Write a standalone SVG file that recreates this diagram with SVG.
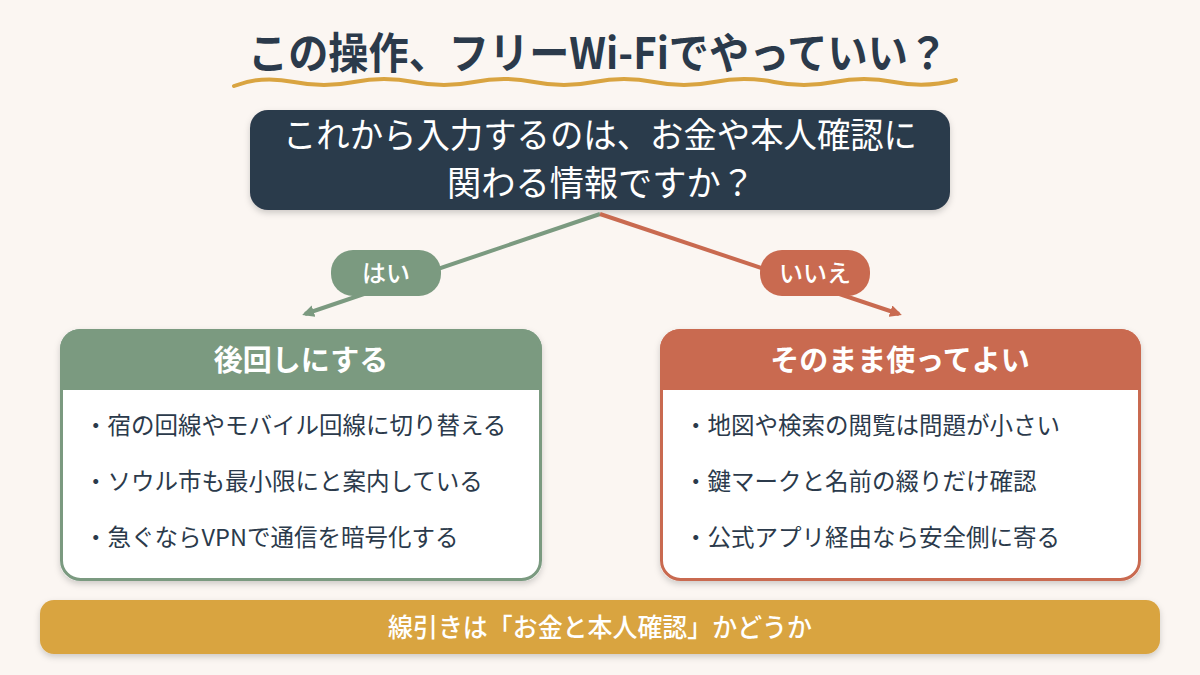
<svg xmlns="http://www.w3.org/2000/svg" width="1200" height="675" viewBox="0 0 1200 675">
<defs>
<style>
.t{font-family:"Noto Sans CJK JP","Noto Sans",sans-serif;}
.title{font-size:43px;font-weight:700;fill:#2b3a4b;}
.q{font-size:35px;font-weight:400;fill:#ffffff;}
.pill{font-size:24px;font-weight:500;fill:#ffffff;}
.head{font-size:29px;font-weight:700;fill:#ffffff;}
.item{font-size:23.5px;font-weight:400;fill:#2b3a4b;}
.foot{font-size:26px;font-weight:500;fill:#ffffff;}
</style>
<filter id="sh" x="-5%" y="-10%" width="110%" height="130%">
<feDropShadow dx="0" dy="3" stdDeviation="3" flood-color="#000" flood-opacity="0.18"/>
</filter>
<marker id="ag" markerWidth="12" markerHeight="12" refX="9" refY="6" orient="auto" markerUnits="userSpaceOnUse" viewBox="0 0 12 12">
<path d="M0,0 L12,6 L0,12 z" fill="#7b9a80"/>
</marker>
<marker id="ar" markerWidth="12" markerHeight="12" refX="9" refY="6" orient="auto" markerUnits="userSpaceOnUse" viewBox="0 0 12 12">
<path d="M0,0 L12,6 L0,12 z" fill="#c96a50"/>
</marker>
<clipPath id="cl"><rect x="60" y="329" width="482" height="252" rx="20"/></clipPath>
<clipPath id="cr"><rect x="660" y="329" width="481" height="252" rx="20"/></clipPath>
</defs>
<rect width="1200" height="675" fill="#fbf6f2"/>

<g id="title">
<text class="t title" x="598" y="69" text-anchor="middle" textLength="700" lengthAdjust="spacingAndGlyphs">この操作、フリーWi-Fiでやっていい？</text>
<path d="M234,86 C254,78 274,78 294,82 S334,86 354,82 S394,78 414,82 S454,86 474,82 S514,78 534,82 S574,86 594,82 S634,78 654,82 S694,86 714,82 S754,78 774,82 S814,86 834,82 S874,78 894,82 S934,86 956,80" fill="none" stroke="#d9a441" stroke-width="4" stroke-linecap="round"/>
</g>

<g id="question">
<rect x="250" y="110" width="700" height="100" rx="18" fill="#2b3a4c" filter="url(#sh)"/>
<text class="t q" x="600" y="148" text-anchor="middle" textLength="634" lengthAdjust="spacingAndGlyphs">これから入力するのは、お金や本人確認に</text>
<text class="t q" x="601" y="196" text-anchor="middle" textLength="308" lengthAdjust="spacingAndGlyphs">関わる情報ですか？</text>
</g>

<g id="connectors">
<line x1="600" y1="214" x2="305" y2="314" stroke="#7b9a80" stroke-width="4" marker-end="url(#ag)"/>
<line x1="600" y1="214" x2="899" y2="314" stroke="#c96a50" stroke-width="4" marker-end="url(#ar)"/>
</g>

<g id="label-yes">
<rect x="331" y="250" width="110" height="46" rx="22" fill="#7b9a80"/>
<text class="t pill" x="386" y="282" text-anchor="middle">はい</text>
</g>
<g id="label-no">
<rect x="760" y="250" width="110" height="46" rx="22" fill="#c96a50"/>
<text class="t pill" x="815" y="282" text-anchor="middle">いいえ</text>
</g>

<g id="card-left">
<rect x="60" y="329" width="482" height="252" rx="20" fill="#ffffff" filter="url(#sh)"/>
<rect x="60" y="329" width="482" height="61" fill="#7b9a80" clip-path="url(#cl)"/>
<rect x="61.5" y="330.5" width="479" height="249" rx="19" fill="none" stroke="#7b9a80" stroke-width="3"/>
<text class="t head" x="301" y="371" text-anchor="middle">後回しにする</text>
<text class="t item" x="84" y="434">・宿の回線やモバイル回線に切り替える</text>
<text class="t item" x="84" y="490">・ソウル市も最小限にと案内している</text>
<text class="t item" x="84" y="546">・急ぐならVPNで通信を暗号化する</text>
</g>

<g id="card-right">
<rect x="660" y="329" width="481" height="252" rx="20" fill="#ffffff" filter="url(#sh)"/>
<rect x="660" y="329" width="481" height="61" fill="#c96a50" clip-path="url(#cr)"/>
<rect x="661.5" y="330.5" width="478" height="249" rx="19" fill="none" stroke="#c96a50" stroke-width="3"/>
<text class="t head" x="900" y="371" text-anchor="middle">そのまま使ってよい</text>
<text class="t item" x="684" y="434">・地図や検索の閲覧は問題が小さい</text>
<text class="t item" x="684" y="490">・鍵マークと名前の綴りだけ確認</text>
<text class="t item" x="684" y="546">・公式アプリ経由なら安全側に寄る</text>
</g>

<g id="footer">
<rect x="40" y="600" width="1120" height="54" rx="14" fill="#d9a441" filter="url(#sh)"/>
<text class="t foot" x="600" y="637" text-anchor="middle" textLength="424" lengthAdjust="spacingAndGlyphs">線引きは「お金と本人確認」かどうか</text>
</g>
</svg>
